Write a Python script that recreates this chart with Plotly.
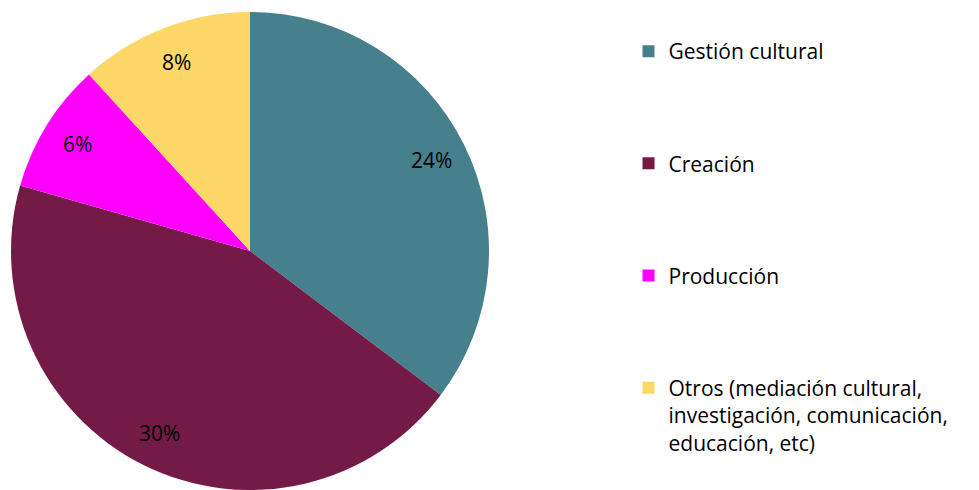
import math
import plotly.graph_objects as go

categories = ["Gestión cultural", "Creación", "Producción",
              "Otros (mediación cultural,<br>investigación, comunicación,<br>educación, etc)"]
values = [24, 30, 6, 8]
colors = ["#47808D", "#731A46", "#FF00FF", "#FDD869"]

# pad legend entries with blank lines to reproduce the wide spacing
pad = [3, 3, 3, 1]
legend_labels = [c + "<br> " * p for c, p in zip(categories, pad)]

W, H = 979, 490
M_T = 12
dom_x = [0, 500 / W]

fig = go.Figure(go.Pie(
    labels=legend_labels,
    values=values,
    sort=False,
    direction="clockwise",
    rotation=0,
    marker=dict(colors=colors, line=dict(width=0)),
    textinfo="none",
    hoverinfo="skip",
    domain=dict(x=dom_x, y=[0, 1]),
))

# data labels placed along each slice's mid-angle (Excel-style "best fit")
plot_h = H - M_T
radius_px = min(dom_x[1] * W, plot_h) / 2
cx = (dom_x[0] + dom_x[1]) / 2
cy = 0.5
total = sum(values)
cum = 0
for v in values:
    mid = math.radians((cum + v / 2) / total * 360)
    cum += v
    r = 0.85 * radius_px
    fig.add_annotation(
        x=cx + r * math.sin(mid) / W,
        y=cy + r * math.cos(mid) / plot_h,
        xref="paper", yref="paper",
        xanchor="center", yanchor="middle",
        text=f"{v}%", showarrow=False,
        font=dict(family="Open Sans", size=21, color="#000000"),
    )

fig.update_layout(
    width=W, height=H,
    margin=dict(l=0, r=0, t=M_T, b=0),
    paper_bgcolor="white",
    plot_bgcolor="white",
    showlegend=True,
    legend=dict(
        x=0.642, y=0.95, xanchor="left", yanchor="top",
        valign="top",
        font=dict(family="Open Sans", size=21, color="#000000"),
        bgcolor="rgba(0,0,0,0)",
    ),
)

fig.write_html("out.html")
